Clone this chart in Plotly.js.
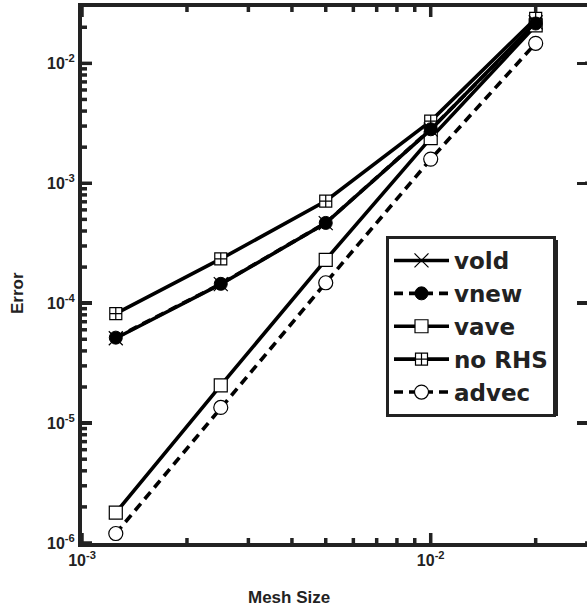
<!DOCTYPE html>
<html>
<head>
<meta charset="utf-8">
<script src="https://cdn.plot.ly/plotly-3.0.1.min.js"></script>
<style>
html,body{margin:0;padding:0;overflow:hidden;background:#fff;}
#chart{width:587px;height:610px;}
</style>
</head>
<body>
<div id="chart"></div>
<script>
// Mesh sizes (x) and error values
var meshSize = [1.25e-3, 2.5e-3, 5e-3, 1e-2, 2e-2];
var vold  = [5.1e-5, 1.44e-4, 4.65e-4, 2.8e-3, 2.2e-2];
var vnew  = [5.16e-5, 1.45e-4, 4.67e-4, 2.82e-3, 2.15e-2];
var vave  = [1.79e-6, 2.06e-5, 2.30e-4, 2.38e-3, 2.07e-2];
var noRHS = [8.18e-5, 2.34e-4, 7.11e-4, 3.30e-3, 2.37e-2];
var advec = [1.20e-6, 1.35e-5, 1.48e-4, 1.59e-3, 1.47e-2];

var seriesNames = ['vold', 'vnew', 'vave', 'no RHS', 'advec'];
var xTickVals = [1e-3, 1e-2];
var xTickText = ['<b>10<sup>-3</sup></b>', '<b>10<sup>-2</sup></b>'];
var yTickVals = [1e-6, 1e-5, 1e-4, 1e-3, 1e-2];
var yTickText = ['<b>10<sup>-6</sup></b>', '<b>10<sup>-5</sup></b>', '<b>10<sup>-4</sup></b>', '<b>10<sup>-3</sup></b>', '<b>10<sup>-2</sup></b>'];
var xMinorTicks = [2e-3, 3e-3, 4e-3, 5e-3, 6e-3, 7e-3, 8e-3, 9e-3, 2e-2];
var yMinorTicks = [2e-6, 3e-6, 4e-6, 5e-6, 6e-6, 7e-6, 8e-6, 9e-6,
                   2e-5, 3e-5, 4e-5, 5e-5, 6e-5, 7e-5, 8e-5, 9e-5,
                   2e-4, 3e-4, 4e-4, 5e-4, 6e-4, 7e-4, 8e-4, 9e-4,
                   2e-3, 3e-3, 4e-3, 5e-3, 6e-3, 7e-3, 8e-3, 9e-3, 2e-2];

var FONT = 'Liberation Sans';
var LFONT = 'DejaVu Sans';
var INK = '#222';
var LW = 3.6;
var DASH = '9px,6px';
var XR = [-3, -1.5518], YR = [-6, -1.53];

function tr(name, y, dash, symbol, size, fill, lw, rank) {
  return {
    x: meshSize, y: y, name: name, type: 'scatter', mode: 'lines+markers',
    legendrank: rank,
    line: {color: '#000', width: LW, dash: dash},
    marker: {symbol: symbol, size: size, color: fill, line: {color: '#000', width: lw}}
  };
}

var data = [
  tr(seriesNames[2], vave, 'solid', 'square', 13, '#fff', 1.2, 3),
  tr(seriesNames[4], advec, DASH, 'circle', 14, '#fff', 1.2, 5),
  tr(seriesNames[3], noRHS, 'solid', 'square-cross', 12, '#fff', 1.2, 4),
  tr(seriesNames[0], vold, 'solid', 'x-thin-open', 14, '#000', 1.2, 1),
  tr(seriesNames[1], vnew, DASH, 'circle', 13, '#000', 1, 2)
];

// tick marks, placed on the axes' own scales
var shapes = [];
function tickLine(o) {
  return Object.assign({type: 'line', layer: 'above', line: {color: INK, width: 3.5}}, o);
}
function xTicks(vals, len) {
  vals.forEach(function (v) {
    shapes.push(tickLine({xref: 'x', x0: v, x1: v, yref: 'paper', ysizemode: 'pixel', yanchor: 0, y0: 0, y1: len}));
    shapes.push(tickLine({xref: 'x', x0: v, x1: v, yref: 'paper', ysizemode: 'pixel', yanchor: 1, y0: 0, y1: -len}));
  });
}
function yTicks(vals, len, right) {
  vals.forEach(function (v) {
    shapes.push(tickLine({yref: 'y', y0: v, y1: v, xref: 'paper', xsizemode: 'pixel', xanchor: 0, x0: 0, x1: len}));
    if (right) shapes.push(tickLine({yref: 'y', y0: v, y1: v, xref: 'paper', xsizemode: 'pixel', xanchor: 1.016, x0: 0, x1: -len}));
  });
}
xTicks(xTickVals, 10);
xTicks(xMinorTicks, 5);
yTicks(yTickVals, 10, true);
yTicks(yMinorTicks, 5, false);

// legend drop shadow
var LEGX = (386 - 82) / 505, LEGY = (543 - 236) / 536;
shapes.unshift({type: 'rect', layer: 'above', xref: 'paper', yref: 'paper',
  xsizemode: 'pixel', ysizemode: 'pixel', xanchor: LEGX, yanchor: LEGY,
  x0: 4, x1: 4 + 168, y0: -4, y1: -4 - 176, fillcolor: INK, line: {width: 0}});

var axisCommon = {
  type: 'log', showgrid: false, zeroline: false, automargin: false,
  showline: true, linecolor: INK, linewidth: 4, mirror: 'ticks',
  ticks: 'inside', ticklen: 10, tickwidth: 3.5, tickcolor: INK, layer: 'above traces',
  tickmode: 'array',
  tickfont: {family: FONT, size: 16, color: INK}
};

var layout = {
  width: 587, height: 610,
  margin: {l: 82, r: 0, t: 7, b: 67},
  paper_bgcolor: '#fff', plot_bgcolor: '#fff',
  showlegend: true,
  xaxis: Object.assign({}, axisCommon, {range: XR, tickvals: xTickVals, ticktext: xTickText}),
  yaxis: Object.assign({}, axisCommon, {range: YR, tickvals: yTickVals, ticktext: yTickText}),
  legend: {
    x: LEGX, y: LEGY, xanchor: 'left', yanchor: 'top',
    bgcolor: '#fff', bordercolor: INK, borderwidth: 3,
    font: {family: LFONT, size: 23, color: INK, weight: 'bold'},
    itemwidth: 55, traceorder: 'normal'
  },
  annotations: [
    {text: '<b>Mesh Size</b>', xref: 'paper', yref: 'paper', x: (289 - 82) / 505, y: -(597 - 543) / 536,
     xanchor: 'center', yanchor: 'middle', showarrow: false,
     font: {family: FONT, size: 17, color: INK}},
    {text: '<b>Error</b>', xref: 'paper', yref: 'paper', x: -(82 - 18) / 505, y: (543 - 293) / 536,
     xanchor: 'center', yanchor: 'middle', textangle: -90, showarrow: false,
     font: {family: FONT, size: 17, color: INK}}
  ],
  shapes: shapes
};

Plotly.newPlot('chart', data, layout, {displayModeBar: false, staticPlot: true});
</script>
</body>
</html>
